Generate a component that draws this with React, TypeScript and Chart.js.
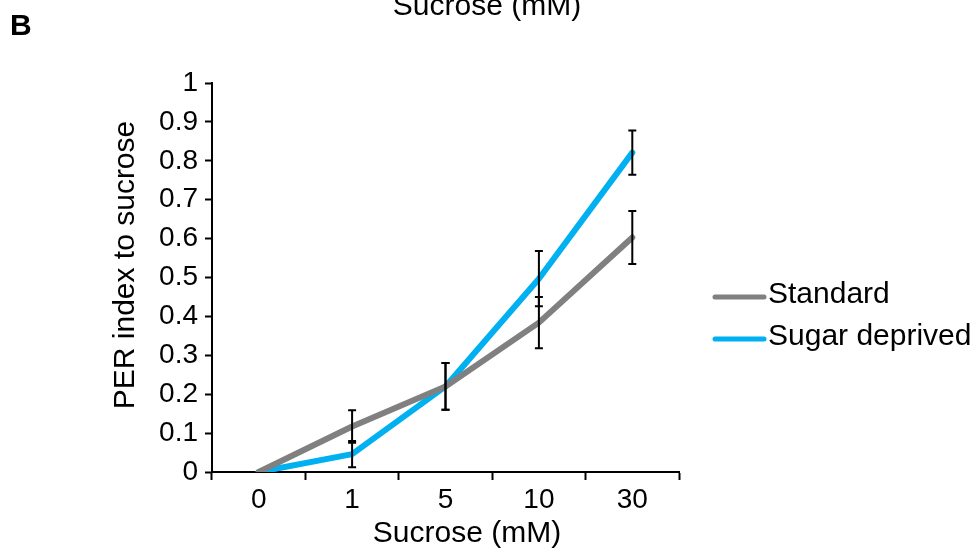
import React, { useEffect, useRef } from "react";
import { Chart, registerables } from "chart.js";

Chart.register(...registerables);

const categories = ["0", "1", "5", "10", "30"];
const standardValues = [0, 0.117, 0.22, 0.384, 0.603];
const standardErrors = [0, 0.042, 0.06, 0.066, 0.068];
const sugarValues = [0, 0.046, 0.22, 0.497, 0.821];
const sugarErrors = [0, 0.034, 0.06, 0.071, 0.057];
const seriesNames = ["Standard", "Sugar deprived"];
const seriesColors = ["#808080", "#00B0F0"];
const yTicks = [0, 0.1, 0.2, 0.3, 0.4, 0.5, 0.6, 0.7, 0.8, 0.9, 1];
const xTitle = "Sucrose (mM)";
const yTitle = "PER index to sucrose";
const panelLetter = "B";
const topTitle = "Sucrose (mM)";

const FONT = "'Liberation Sans', Arial, sans-serif";

const errorBarPlugin = {
  id: "errorBars",
  afterDatasetsDraw(chart: any) {
    const ctx = chart.ctx;
    const x = chart.scales.x;
    const y = chart.scales.y;
    const errs = [standardErrors, sugarErrors];
    ctx.save();
    ctx.strokeStyle = "#000";
    ctx.lineWidth = 2;
    chart.data.datasets.forEach((ds: any, di: number) => {
      ds.data.forEach((v: number, i: number) => {
        const e = errs[di][i];
        if (!e) return;
        const px = x.getPixelForValue(i);
        const top = y.getPixelForValue(v + e);
        const bot = y.getPixelForValue(v - e);
        ctx.beginPath();
        ctx.moveTo(px, top);
        ctx.lineTo(px, bot);
        ctx.moveTo(px - 4, top);
        ctx.lineTo(px + 4, top);
        ctx.moveTo(px - 4, bot);
        ctx.lineTo(px + 4, bot);
        ctx.stroke();
      });
    });
    ctx.restore();
  },
};

const decorPlugin = {
  id: "decor",
  afterDraw(chart: any) {
    const ctx = chart.ctx;
    const area = chart.chartArea;
    ctx.save();
    // panel letter
    ctx.fillStyle = "#000";
    ctx.font = `bold 30px ${FONT}`;
    ctx.textAlign = "left";
    ctx.textBaseline = "middle";
    ctx.fillText(panelLetter, 10, 27);
    // clipped top title
    ctx.font = `30px ${FONT}`;
    ctx.textAlign = "center";
    ctx.textBaseline = "alphabetic";
    ctx.fillText(topTitle, 487, 15);
    // x axis title
    ctx.fillText(xTitle, area.left + 255, 542);
    // y axis title
    ctx.save();
    ctx.translate(126, area.top + 182);
    ctx.rotate(-Math.PI / 2);
    ctx.textBaseline = "middle";
    ctx.fillText(yTitle, 0, 0);
    ctx.restore();
    // legend
    const lx = area.right + 36;
    const ys = [297, 339];
    seriesNames.forEach((name, i) => {
      ctx.strokeStyle = seriesColors[i];
      ctx.lineWidth = 5;
      ctx.lineCap = "round";
      ctx.beginPath();
      ctx.moveTo(lx, ys[i]);
      ctx.lineTo(lx + 49, ys[i]);
      ctx.stroke();
      ctx.fillStyle = "#000";
      ctx.font = `30px ${FONT}`;
      ctx.textAlign = "left";
      ctx.textBaseline = "middle";
      ctx.fillText(name, lx + 53, ys[i] - 2);
    });
    ctx.restore();
  },
};

export default function App() {
  const ref = useRef<HTMLCanvasElement | null>(null);
  useEffect(() => {
    if (!ref.current) return;
    const chart = new Chart(ref.current, {
      type: "line",
      data: {
        labels: categories,
        datasets: [
          {
            label: seriesNames[0],
            data: standardValues,
            borderColor: seriesColors[0],
            backgroundColor: seriesColors[0],
            borderWidth: 6,
            pointRadius: 0,
            tension: 0,
            borderCapStyle: "round",
            borderJoinStyle: "round",
          },
          {
            label: seriesNames[1],
            data: sugarValues,
            borderColor: seriesColors[1],
            backgroundColor: seriesColors[1],
            borderWidth: 6,
            pointRadius: 0,
            tension: 0,
            borderCapStyle: "round",
            borderJoinStyle: "round",
          },
        ],
      },
      options: {
        animation: false,
        responsive: true,
        maintainAspectRatio: false,
        layout: { padding: { left: 0, right: 301, top: 83, bottom: 0 } },
        plugins: {
          legend: { display: false },
          tooltip: { enabled: false },
          title: { display: false },
        },
        scales: {
          x: {
            type: "category",
            offset: true,
            grid: {
              offset: true,
              drawOnChartArea: false,
              drawTicks: true,
              tickLength: 8,
              tickWidth: 2,
              tickColor: "#000",
            },
            border: { display: true, color: "#000", width: 2 },
            ticks: {
              color: "#000",
              font: { family: FONT, size: 28 },
              padding: 3,
              maxRotation: 0,
            },
            title: { display: false },
            afterFit(scale: any) {
              scale.height = 80;
            },
          },
          y: {
            min: 0,
            max: 1,
            afterBuildTicks(scale: any) {
              scale.ticks = yTicks.map((v) => ({ value: v }));
            },
            grid: {
              drawOnChartArea: false,
              drawTicks: true,
              tickLength: 7,
              tickWidth: 2,
              tickColor: "#000",
            },
            border: { display: true, color: "#000", width: 2 },
            ticks: {
              color: "#000",
              font: { family: FONT, size: 28 },
              padding: 7,
              callback: (v: any) => String(Math.round(Number(v) * 10) / 10),
            },
            title: { display: false },
            afterFit(scale: any) {
              scale.width = 212;
            },
          },
        },
      },
      plugins: [errorBarPlugin, decorPlugin],
    } as any);
    return () => chart.destroy();
  }, []);
  return (
    <div style={{ position: "fixed", left: 0, top: 0, width: 980, height: 552, background: "#fff" }}>
      <canvas ref={ref} />
    </div>
  );
}
